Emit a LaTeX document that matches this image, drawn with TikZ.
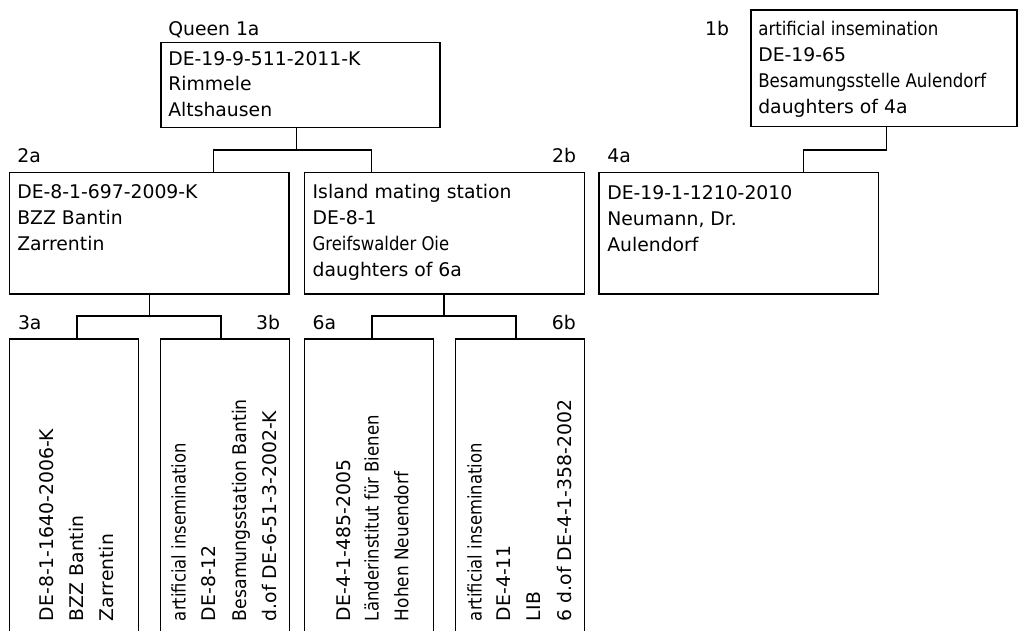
\documentclass[tikz,border=0pt]{standalone}
\usepackage{fontspec}
\setmainfont{DejaVu Sans}
\newcommand{\cnd}[2]{{\addfontfeature{FakeStretch=#1}#2}}
\begin{document}
\begin{tikzpicture}[x=1pt,y=-1pt,
  every node/.style={font=\fontsize{18.8pt}{22pt}\selectfont, inner sep=0pt, outer sep=0pt},
  pbox/.style={draw, line width=1.4pt, rectangle, anchor=north west},
  hbox/.style={pbox, minimum width=280pt, minimum height=121.3pt},
  vbox/.style={pbox, minimum width=129pt, minimum height=310pt},
  txt/.style={anchor=base west},
  rtxt/.style={anchor=base east},
  vtxt/.style={anchor=base west, rotate=90},
  conn/.style={line width=1.4pt}
]
\useasboundingbox (0,0) rectangle (1018,630);
\clip (0,0) rectangle (1018,630);
\fill[white] (0,0) rectangle (1018,630);

% Queen 1a
\node[pbox, minimum width=279pt, minimum height=84.6pt] (q) at (161,42.7) {};
\node[txt] (ql) at (168.3,35) {Queen 1a};
\node[txt] (q1) at (168.3,65) {DE-19-9-511-2011-K};
\node[txt] (q2) at (168.3,90.7) {Rimmele};
\node[txt] (q3) at (168.3,116.3) {Altshausen};

% 1b
\node[pbox, minimum width=266pt, minimum height=116.5pt] (b1) at (751,10) {};
\node[rtxt] (b1l) at (729,35.7) {1b};
\node[txt] (b11) at (758.3,35.7) {\cnd{0.885}{artificial insemination}};
\node[txt] (b12) at (758.3,61.7) {DE-19-65};
\node[txt] (b13) at (758.3,87.5) {\cnd{0.885}{Besamungsstelle Aulendorf}};
\node[txt] (b14) at (758.3,113.3) {daughters of 4a};

% 2a
\node[hbox, minimum width=279.7pt] (a2) at (9.3,172.7) {};
\node[txt] (a2l) at (17.3,162.7) {2a};
\node[txt] (a21) at (17.3,198.5) {DE-8-1-697-2009-K};
\node[txt] (a22) at (17.3,224.5) {BZZ Bantin};
\node[txt] (a23) at (17.3,250.5) {Zarrentin};

% 2b
\node[hbox] (b2) at (304.3,172.7) {};
\node[rtxt] (b2l) at (576,162.7) {2b};
\node[txt] (b21) at (312.7,198.5) {Island mating station};
\node[txt] (b22) at (312.7,224.5) {DE-8-1};
\node[txt] (b23) at (312.7,250.5) {\cnd{0.875}{Greifswalder Oie}};
\node[txt] (b24) at (312.7,276.5) {daughters of 6a};

% 4a
\node[hbox, minimum width=279.5pt] (a4) at (598.8,172.7) {};
\node[txt] (a4l) at (607.3,162.7) {4a};
\node[txt] (a41) at (607.3,199) {DE-19-1-1210-2010};
\node[txt] (a42) at (607.3,225) {Neumann, Dr.};
\node[txt] (a43) at (607.3,251) {Aulendorf};

% 3a
\node[vbox] (a3) at (9.3,339) {};
\node[txt] (a3l) at (18,329.3) {3a};
\node[vtxt] (a31) at (53.3,621) {DE-8-1-1640-2006-K};
\node[vtxt] (a32) at (83.3,621) {BZZ Bantin};
\node[vtxt] (a33) at (113.5,621) {Zarrentin};

% 3b
\node[vbox] (b3) at (160.3,339) {};
\node[rtxt] (b3l) at (280,329.3) {3b};
\node[vtxt] (b31) at (185.7,621) {\cnd{0.875}{artificial insemination}};
\node[vtxt] (b32) at (215.5,621) {DE-8-12};
\node[vtxt] (b33) at (246,621) {\cnd{0.92}{Besamungsstation Bantin}};
\node[vtxt] (b34) at (276.5,621) {d.of DE-6-51-3-2002-K};

% 6a
\node[vbox] (a6) at (304.3,339) {};
\node[txt] (a6l) at (312.7,329.3) {6a};
\node[vtxt] (a61) at (350,621) {DE-4-1-485-2005};
\node[vtxt] (a62) at (378.5,621) {\cnd{0.877}{Länderinstitut für Bienen}};
\node[vtxt] (a63) at (408.3,621) {\cnd{0.9}{Hohen Neuendorf}};

% 6b
\node[vbox, minimum width=128.6pt] (b6) at (455.7,339) {};
\node[rtxt] (b6l) at (575.7,329.3) {6b};
\node[vtxt] (b61) at (481.7,621) {\cnd{0.875}{artificial insemination}};
\node[vtxt] (b62) at (510.5,621) {DE-4-11};
\node[vtxt] (b63) at (540,621) {LIB};
\node[vtxt] (b64) at (571,621) {6 d.of DE-4-1-358-2002};

% connectors
\draw[conn] (296.7,0 |- q.south) -- (296.7,150) -| (213.3,0 |- a2.north);
\draw[conn] (296.7,150) -| (371.7,0 |- b2.north);
\draw[conn] (886.7,0 |- b1.south) -- (886.7,150) -| (803.3,0 |- a4.north);
\draw[conn] (149.3,0 |- a2.south) -- (149.3,316) -| (77,0 |- a3.north);
\draw[conn] (149.3,316) -| (221,0 |- b3.north);
\draw[conn] (444,0 |- b2.south) -- (444,316) -| (372,0 |- a6.north);
\draw[conn] (444,316) -| (516,0 |- b6.north);
\end{tikzpicture}
\end{document}
